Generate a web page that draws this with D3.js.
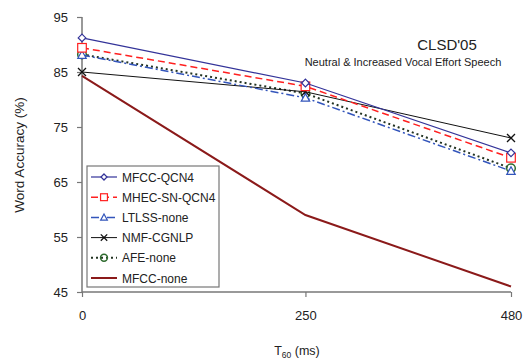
<!DOCTYPE html>
<html>
<head>
<meta charset="utf-8">
<script src="https://cdn.jsdelivr.net/npm/d3@7"></script>
<style>
body { margin: 0; background: #fff; }
text { font-family: "Liberation Sans", Arial, sans-serif; fill: #222; }
</style>
</head>
<body>
<script>
//data
var t60 = [0, 250, 480];
var mfccQcn4 = [91.2, 83.0, 70.3];
var mhecSnQcn4 = [89.4, 82.4, 69.4];
var ltlssNone = [88.1, 80.3, 67.0];
var nmfCgnlp = [85.0, 81.4, 73.0];
var afeNone = [88.2, 81.1, 67.5];
var mfccNone = [84.3, 59.0, 46.0];
var yTicks = [45, 55, 65, 75, 85, 95];

var series = [
    {name: "MFCC-QCN4", values: mfccQcn4, color: "#333399", dash: null, marker: "diamond", width: 1.2},
    {name: "MHEC-SN-QCN4", values: mhecSnQcn4, color: "#ff2020", dash: "7,4", marker: "square", width: 1.5},
    {name: "LTLSS-none", values: ltlssNone, color: "#3355bb", dash: "8,3,2,3", marker: "triangle", width: 1.5},
    {name: "NMF-CGNLP", values: nmfCgnlp, color: "#111111", dash: null, marker: "cross", width: 1},
    {name: "AFE-none", values: afeNone, color: "#223322", dash: "2,3", marker: "circle", width: 2, markerColor: "#2e6b2e"},
    {name: "MFCC-none", values: mfccNone, color: "#8b1a1a", dash: null, marker: null, width: 2}
];

var width = 527,
    height = 360;

var svg = d3.select("body")
    .append("svg")
    .attr("width", width)
    .attr("height", height);

var x = d3.scaleLinear().domain([0, 480]).range([82, 511]);
var y = d3.scaleLinear().domain([45, 95]).range([292, 17]);

//axes
var yAxis = svg.append("g")
    .attr("transform", "translate(82,0)")
    .call(d3.axisLeft(y).tickValues(yTicks).tickSize(5).tickPadding(9));
var xAxis = svg.append("g")
    .attr("transform", "translate(0,292)")
    .call(d3.axisBottom(x).tickValues(t60).tickSize(5).tickPadding(14));
[yAxis, xAxis].forEach(function(ax) {
    ax.select(".domain").attr("stroke", "#777").attr("stroke-width", 1.5);
    ax.selectAll(".tick line").attr("stroke", "#777").attr("stroke-width", 1.2);
    ax.selectAll(".tick text").attr("font-size", 13).attr("fill", "#222")
        .style("font-family", "Liberation Sans, Arial, sans-serif");
});
// full range domain lines
xAxis.select(".domain").attr("d", "M82,0H511");
yAxis.select(".domain").attr("d", "M0,17V292");

//axis titles
svg.append("text")
    .attr("transform", "translate(24,155) rotate(-90)")
    .attr("text-anchor", "middle")
    .attr("font-size", 13.5)
    .text("Word Accuracy (%)");
var xt = svg.append("text")
    .attr("x", 297).attr("y", 355)
    .attr("text-anchor", "middle")
    .attr("font-size", 12.5);
xt.append("tspan").text("T");
xt.append("tspan").attr("font-size", 8.5).attr("dy", 3).text("60");
xt.append("tspan").attr("dy", -3).text(" (ms)");

//chart title
svg.append("text")
    .attr("x", 447).attr("y", 50)
    .attr("text-anchor", "middle")
    .attr("font-size", 15)
    .text("CLSD'05");
svg.append("text")
    .attr("x", 403).attr("y", 66)
    .attr("text-anchor", "middle")
    .attr("font-size", 11)
    .text("Neutral & Increased Vocal Effort Speech");

function drawMarker(g, type, cx, cy, color, k) {
    k = k || 1;
    if (type === "diamond") {
        var r = 3.8 * k;
        g.append("path").attr("d", "M" + cx + "," + (cy - r) + "L" + (cx + r) + "," + cy + "L" + cx + "," + (cy + r) + "L" + (cx - r) + "," + cy + "Z")
            .attr("fill", "#fff").attr("stroke", color).attr("stroke-width", 1.2);
    } else if (type === "square") {
        var h = 4.3 * k;
        g.append("rect").attr("x", cx - h).attr("y", cy - h).attr("width", 2 * h).attr("height", 2 * h)
            .attr("fill", "#fff").attr("stroke", color).attr("stroke-width", 1.2);
    } else if (type === "triangle") {
        var t = 4.2 * k;
        g.append("path").attr("d", "M" + cx + "," + (cy - t) + "L" + (cx + t) + "," + (cy + t * 0.8) + "L" + (cx - t) + "," + (cy + t * 0.8) + "Z")
            .attr("fill", "#fff").attr("stroke", color).attr("stroke-width", 1.2);
    } else if (type === "cross") {
        var c = 4 * k;
        g.append("path").attr("d", "M" + (cx - c) + "," + (cy - c) + "L" + (cx + c) + "," + (cy + c) + "M" + (cx + c) + "," + (cy - c) + "L" + (cx - c) + "," + (cy + c))
            .attr("stroke", color).attr("stroke-width", 1.3);
    } else if (type === "circle") {
        g.append("circle").attr("cx", cx).attr("cy", cy).attr("r", 4.3 * k)
            .attr("fill", "none").attr("stroke", color).attr("stroke-width", 1.5);
    }
}

var line = d3.line()
    .x(function(d, i) { return x(t60[i]); })
    .y(function(d) { return y(d); });

//draw series, bottom one first
series.slice().reverse().forEach(function(s) {
    var g = svg.append("g");
    g.append("path")
        .attr("d", line(s.values))
        .attr("fill", "none")
        .attr("stroke", s.color)
        .attr("stroke-width", s.width)
        .attr("stroke-dasharray", s.dash);
    if (s.marker) {
        s.values.forEach(function(v, i) {
            drawMarker(g, s.marker, x(t60[i]), y(v), s.markerColor || s.color);
        });
    }
});

//legend
var legend = svg.append("g");
legend.append("rect")
    .attr("x", 87).attr("y", 166)
    .attr("width", 132).attr("height", 121)
    .attr("fill", "#fff").attr("stroke", "#777").attr("stroke-width", 1.2);
series.forEach(function(s, i) {
    var ly = 177 + i * 20.2;
    legend.append("line")
        .attr("x1", 91).attr("x2", 117)
        .attr("y1", ly).attr("y2", ly)
        .attr("stroke", s.color)
        .attr("stroke-width", s.width)
        .attr("stroke-dasharray", s.dash);
    if (s.marker) drawMarker(legend, s.marker, 104, ly, s.markerColor || s.color, 0.8);
    legend.append("text")
        .attr("x", 122).attr("y", ly + 4.5)
        .attr("font-size", 12)
        .text(s.name);
});
</script>
</body>
</html>
